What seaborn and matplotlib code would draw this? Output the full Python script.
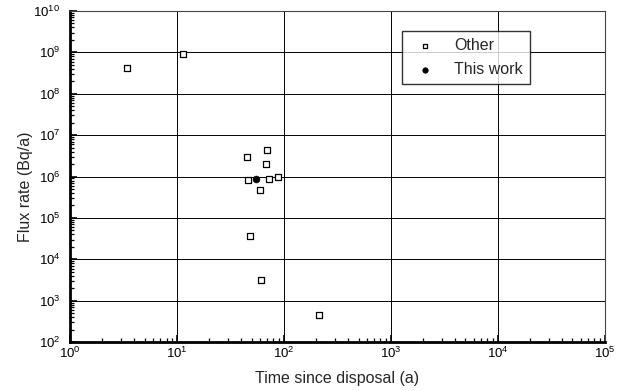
import matplotlib
matplotlib.use("Agg")
import numpy as np
import pandas as pd
import seaborn as sns
from matplotlib import pyplot as plt
from matplotlib import ticker

# Data
other_time = [3.4, 11.4, 70, 45, 68, 46, 73, 89, 60, 48, 61, 213]
other_flux = [4.2e8, 9.0e8, 4.4e6, 3.0e6, 2.0e6, 8.3e5, 8.6e5, 9.8e5, 4.6e5, 3.7e4, 3.1e3, 450]
this_time = [55]
this_flux = [8.6e5]


def main() -> None:
    sns.set_theme(style="white")
    plt.rcParams["font.family"] = ["Liberation Sans", "DejaVu Sans"]
    plt.rcParams["mathtext.fontset"] = "custom"
    plt.rcParams["mathtext.rm"] = "Liberation Sans"
    plt.rcParams["mathtext.it"] = "Liberation Sans"

    df_other = pd.DataFrame({"time": other_time, "flux": other_flux})
    df_this = pd.DataFrame({"time": this_time, "flux": this_flux})

    fig = plt.figure(figsize=(6.2, 3.91), dpi=100)
    ax = fig.add_axes([0.113, 0.125, 0.862, 0.847])

    sns.scatterplot(data=df_other, x="time", y="flux", ax=ax, marker="s", s=18,
                    facecolor="white", edgecolor="black", linewidth=0.9, label="Other", zorder=3)
    sns.scatterplot(data=df_this, x="time", y="flux", ax=ax, marker="o", s=24,
                    color="black", edgecolor="black", linewidth=0.5, label="This work", zorder=3)

    ax.set_xscale("log")
    ax.set_yscale("log")
    ax.set_xlim(1, 1e5)
    ax.set_ylim(1e2, 1e10)

    ax.xaxis.set_major_locator(ticker.LogLocator(base=10, numticks=10))
    ax.yaxis.set_major_locator(ticker.LogLocator(base=10, numticks=12))
    ax.xaxis.set_minor_locator(ticker.LogLocator(base=10, subs=np.arange(2, 10), numticks=12))
    ax.yaxis.set_minor_locator(ticker.LogLocator(base=10, subs=np.arange(2, 10), numticks=12))
    ax.xaxis.set_minor_formatter(ticker.NullFormatter())
    ax.yaxis.set_minor_formatter(ticker.NullFormatter())

    ax.grid(True, which="major", color="black", linewidth=0.7)
    ax.tick_params(which="both", direction="in", bottom=True, left=True, top=False, right=False,
                   labelsize=9.5, colors="black")
    ax.tick_params(which="major", length=5, width=1.2)
    ax.tick_params(which="minor", length=3, width=0.9)
    ax.tick_params(axis="x", pad=3)
    ax.tick_params(axis="y", pad=7)

    for side in ["left", "bottom"]:
        ax.spines[side].set_linewidth(2.0)
        ax.spines[side].set_color("black")
    for side in ["top", "right"]:
        ax.spines[side].set_linewidth(0.8)
        ax.spines[side].set_color("#444444")

    ax.set_xlabel("Time since disposal (a)", fontsize=11.5, labelpad=7)
    ax.set_ylabel("Flux rate (Bq/a)", fontsize=11.5)
    ax.yaxis.set_label_coords(-0.069, 0.47)

    leg = ax.legend(loc="upper left", bbox_to_anchor=(0.622, 0.94), frameon=True, fancybox=False,
                    edgecolor="black", fontsize=11.5, handletextpad=0.9, borderpad=0.45,
                    labelspacing=0.55, markerscale=0.8, borderaxespad=0, handlelength=1.9)
    leg.get_frame().set_linewidth(1.0)
    leg.set_zorder(5)

    fig.savefig("out.png", dpi=100, facecolor="white")
    plt.close(fig)


if __name__ == "__main__":
    main()
